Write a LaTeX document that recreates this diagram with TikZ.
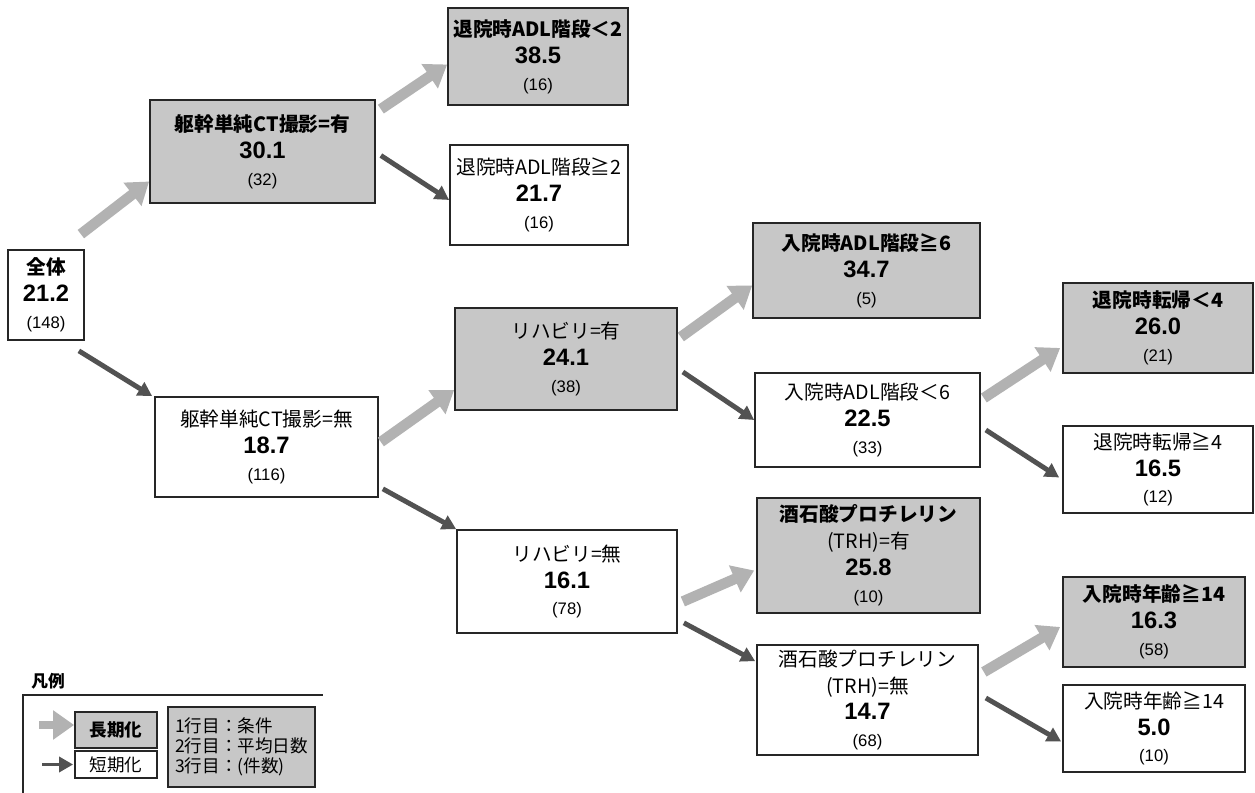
\documentclass[tikz,border=0pt]{standalone}
\usepackage{fontspec}
\setmainfont{Liberation Sans}
\newfontfamily\jp{Noto Sans CJK JP}
\usetikzlibrary{arrows.meta}

\newcommand\condfont{\normalfont\jp\fontsize{11.2}{15.3}\selectfont}
\newcommand\valfont{\normalfont\bfseries\fontsize{13.5}{15.3}\selectfont}
\newcommand\cntfont{\normalfont\fontsize{9.5}{15.3}\selectfont}

\begin{document}
\begin{tikzpicture}[
  x=0.02cm, y=-0.02cm,
  longnode/.style  = {draw=black!85, line width=1pt, fill=black!22,
                      align=center, inner sep=2pt,
                      font=\fontsize{10}{15.3}\selectfont},
  shortnode/.style = {draw=black!85, line width=1pt, fill=white,
                      align=center, inner sep=2pt,
                      font=\fontsize{10}{15.3}\selectfont},
  longarr/.style   = {-{Triangle[width=16pt, length=12pt]},
                      line width=6pt, draw=black!30},
  shortarr/.style  = {-{Triangle[width=8.5pt, length=8pt]},
                      line width=2.8pt, draw=black!68}
]

\path[fill=white, use as bounding box] (0,0) rectangle (1255,793);

%── 全体 ──────────────────────────────────────────────────────────────
\node[shortnode, minimum width=1.52cm, minimum height=1.8cm] (root) at (46,295)
  {\condfont\bfseries 全体\\\valfont 21.2\\\cntfont (148)};

%── 第1分岐 ────────────────────────────────────────────────────────────
\node[longnode, minimum width=4.5cm, minimum height=2.06cm] (ctyes) at (262.5,151.5)
  {\condfont\bfseries 躯幹単純CT撮影=有\\\valfont 30.1\\\cntfont (32)};

\node[shortnode, minimum width=4.46cm, minimum height=2.0cm] (ctno) at (266.5,447)
  {\condfont 躯幹単純CT撮影=無\\\valfont 18.7\\\cntfont (116)};

%── 第2分岐 ────────────────────────────────────────────────────────────
\node[longnode, minimum width=3.6cm, minimum height=1.94cm] (adlltb) at (538,56.5)
  {\condfont\bfseries 退院時ADL階段＜2\\\valfont 38.5\\\cntfont (16)};

\node[shortnode, minimum width=3.56cm, minimum height=2.0cm] (adlgeb) at (539,195)
  {\condfont 退院時ADL階段≧2\\\valfont 21.7\\\cntfont (16)};

\node[longnode, minimum width=4.44cm, minimum height=2.04cm] (rehayes) at (566,359)
  {\condfont リハビリ=有\\\valfont 24.1\\\cntfont (38)};

\node[shortnode, minimum width=4.4cm, minimum height=2.06cm] (rehano) at (567,581.5)
  {\condfont リハビリ=無\\\valfont 16.1\\\cntfont (78)};

%── 第3分岐 ────────────────────────────────────────────────────────────
\node[longnode, minimum width=4.54cm, minimum height=1.9cm] (adlgea) at (866.5,270.5)
  {\condfont\bfseries 入院時ADL階段≧6\\\valfont 34.7\\\cntfont (5)};

\node[shortnode, minimum width=4.5cm, minimum height=1.88cm] (adllta) at (867.5,420)
  {\condfont 入院時ADL階段＜6\\\valfont 22.5\\\cntfont (33)};

\node[longnode, minimum width=4.46cm, minimum height=2.3cm] (trhyes) at (868.5,555.5)
  {\condfont\bfseries 酒石酸プロチレリン\\\condfont (TRH)=有\\\valfont 25.8\\\cntfont (10)};

\node[shortnode, minimum width=4.42cm, minimum height=2.2cm] (trhno) at (867.5,700)
  {\condfont 酒石酸プロチレリン\\\condfont (TRH)=無\\\valfont 14.7\\\cntfont (68)};

%── 第4分岐 ────────────────────────────────────────────────────────────
\node[longnode, minimum width=3.8cm, minimum height=1.8cm] (outlt) at (1158,328)
  {\condfont\bfseries 退院時転帰＜4\\\valfont 26.0\\\cntfont (21)};

\node[shortnode, minimum width=3.8cm, minimum height=1.74cm] (outge) at (1158,469.5)
  {\condfont 退院時転帰≧4\\\valfont 16.5\\\cntfont (12)};

\node[longnode, minimum width=3.64cm, minimum height=1.8cm] (ageyes) at (1154,622)
  {\condfont\bfseries 入院時年齢≧14\\\valfont 16.3\\\cntfont (58)};

\node[shortnode, minimum width=3.64cm, minimum height=1.74cm] (ageno) at (1154,728.5)
  {\condfont 入院時年齢≧14\\\valfont 5.0\\\cntfont (10)};

%── 矢印 ───────────────────────────────────────────────────────────────
\draw[longarr]  ([shift={(-4,-15)}]root.north east) -- ([shift={(0,30)}]ctyes.west);
\draw[shortarr] ([shift={(-6,10)}]root.south east)  -- ([shift={(-2,0)}]ctno.north west);

\draw[longarr]  ([shift={(5,10)}]ctyes.north east) -- ([shift={(0,8)}]adlltb.west);
\draw[shortarr] ([shift={(5,4)}]ctyes.east)        -- ([shift={(0,5)}]adlgeb.west);

\draw[longarr]  ([shift={(2,-5)}]ctno.east)        -- ([shift={(0,31)}]rehayes.west);
\draw[shortarr] ([shift={(4,-9)}]ctno.south east)  -- (rehano.north west);

\draw[longarr]  ([shift={(3,-22)}]rehayes.east)    -- ([shift={(0,15)}]adlgea.west);
\draw[shortarr] ([shift={(5,13)}]rehayes.east)     -- (adllta.west);

\draw[longarr]  ([shift={(3,-22)}]adllta.east)     -- ([shift={(-2,20)}]outlt.west);
\draw[shortarr] ([shift={(5,10)}]adllta.east)      -- ([shift={(-3,8)}]outge.west);

\draw[longarr]  ([shift={(5,20)}]rehano.east)      -- ([shift={(-2,15)}]trhyes.west);
\draw[shortarr] ([shift={(6,-11)}]rehano.south east) -- ([shift={(-1,17)}]trhno.north west);

\draw[longarr]  ([shift={(5,-28)}]trhno.east)      -- ([shift={(-2,5)}]ageyes.west);
\draw[shortarr] ([shift={(7,-2)}]trhno.east)       -- ([shift={(-1,13)}]ageno.west);

%── 凡例 ───────────────────────────────────────────────────────────────
\node[font=\jp\bfseries\fontsize{9.5}{11}\selectfont] (legtitle) at (48,681) {凡例};
\draw[line width=0.8pt, black!85] (23,800) |- (323,695);

\node[longnode, minimum width=1.64cm, minimum height=0.72cm] (keylong) at (116,730)
  {\condfont\bfseries\fontsize{10}{12}\selectfont 長期化};
\node[shortnode, minimum width=1.64cm, minimum height=0.54cm] (keyshort) at (116,764.5)
  {\condfont\fontsize{10}{12}\selectfont 短期化};

\draw[longarr, line width=4pt]  ([shift={(-35,-5)}]keylong.west) -- ([shift={(0,-5)}]keylong.west);
\draw[shortarr, line width=2pt] ([shift={(-32,0)}]keyshort.west) -- ([shift={(-1,0)}]keyshort.west);

\node[longnode, minimum width=2.94cm, minimum height=1.6cm, align=left,
      font=\jp\fontsize{10}{11.5}\selectfont] (keytext) at (241.5,747)
  {1行目：条件\\2行目：平均日数\\3行目：(件数)};

\end{tikzpicture}
\end{document}
